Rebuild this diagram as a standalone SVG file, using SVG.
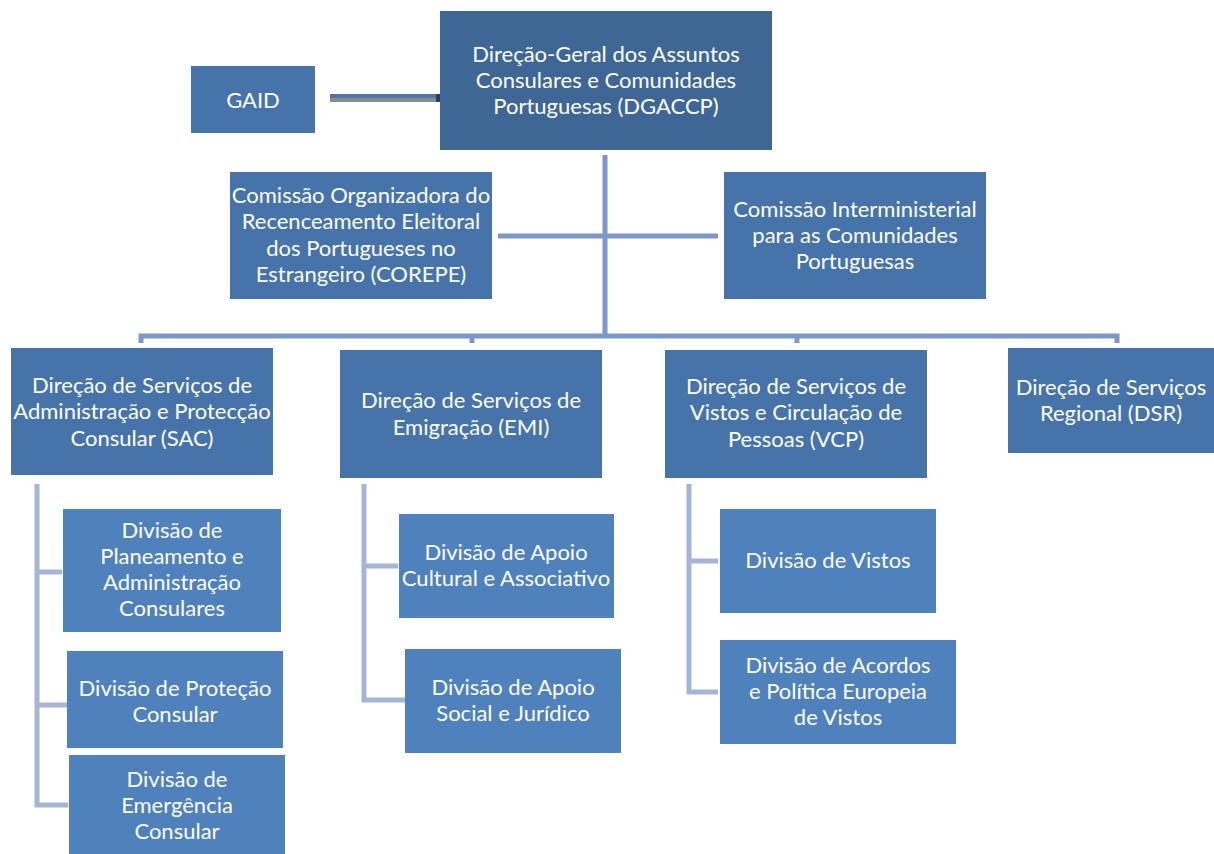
<svg xmlns="http://www.w3.org/2000/svg" width="1214" height="854" viewBox="0 0 1214 854">
<style>
.top{fill:#3e6796}
.main{fill:#4674aa}
.sub{fill:#4f81bd}
text{font-family:Lato,"Open Sans",sans-serif;font-size:22px;fill:#ffffff;text-anchor:middle}
.c1{stroke:#7b98c9;stroke-width:5;fill:none}
.c2{stroke:#a4b5d6;stroke-width:5;fill:none}
</style>
<rect width="1214" height="854" fill="#ffffff"/>
<g id="connectors">
<line x1="330" y1="99" x2="447" y2="99" stroke="#8c8c8c" stroke-width="6"/>
<line x1="330" y1="96" x2="447" y2="96" stroke="#4a78b0" stroke-width="4"/>
<rect x="436" y="94" width="11" height="8" fill="#2b3f5c"/>
<line x1="605" y1="155" x2="605" y2="336" class="c1"/>
<line x1="498" y1="236" x2="718" y2="236" class="c1"/>
<polyline points="141,343 141,336 1117,336 1117,343" class="c1"/>
<line x1="472" y1="336" x2="472" y2="343" class="c1"/>
<line x1="797" y1="336" x2="797" y2="343" class="c1"/>
<polyline points="37,484 37,805 68,805" class="c2"/>
<line x1="37" y1="572" x2="62" y2="572" class="c2"/>
<line x1="37" y1="705" x2="67" y2="705" class="c2"/>
<polyline points="364,484 364,700 405,700" class="c2"/>
<line x1="364" y1="566" x2="398" y2="566" class="c2"/>
<polyline points="689,484 689,692 718,692" class="c2"/>
<line x1="689" y1="561" x2="718" y2="561" class="c2"/>
</g>
<g id="dgaccp"><rect x="440" y="11" width="332" height="139" class="top"/>
<text x="606" y="62">Direção-Geral dos Assuntos</text><text x="606" y="88">Consulares e Comunidades</text><text x="606" y="114">Portuguesas (DGACCP)</text></g>
<g id="gaid"><rect x="191" y="66" width="124" height="67" class="main"/><text x="253" y="108">GAID</text></g>
<g id="corepe"><rect x="230" y="172" width="262" height="127" class="main"/>
<text x="361" y="203">Comissão Organizadora do</text><text x="361" y="229">Recenceamento Eleitoral</text><text x="361" y="256">dos Portugueses no</text><text x="361" y="282">Estrangeiro (COREPE)</text></g>
<g id="cicp"><rect x="724" y="172" width="262" height="127" class="main"/>
<text x="855" y="217">Comissão Interministerial</text><text x="855" y="243">para as Comunidades</text><text x="855" y="269">Portuguesas</text></g>
<g id="sac"><rect x="11" y="348" width="262" height="127" class="main"/>
<text x="142" y="393">Direção de Serviços de</text><text x="142" y="419">Administração e Protecção</text><text x="142" y="446">Consular (SAC)</text></g>
<g id="emi"><rect x="340" y="350" width="262" height="128" class="main"/>
<text x="471" y="408">Direção de Serviços de</text><text x="471" y="435">Emigração (EMI)</text></g>
<g id="vcp"><rect x="665" y="350" width="262" height="128" class="main"/>
<text x="796" y="394">Direção de Serviços de</text><text x="796" y="420">Vistos e Circulação de</text><text x="796" y="447">Pessoas (VCP)</text></g>
<g id="dsr"><rect x="1008" y="348" width="206" height="105" class="main"/>
<text x="1111" y="395">Direção de Serviços</text><text x="1111" y="421">Regional (DSR)</text></g>
<g id="dpac"><rect x="63" y="509" width="218" height="123" class="sub"/>
<text x="172" y="538">Divisão de</text><text x="172" y="564">Planeamento e</text><text x="172" y="590">Administração</text><text x="172" y="616">Consulares</text></g>
<g id="dpc"><rect x="67" y="651" width="216" height="97" class="sub"/>
<text x="175" y="696">Divisão de Proteção</text><text x="175" y="722">Consular</text></g>
<g id="dec"><rect x="69" y="755" width="216" height="99" class="sub"/>
<text x="177" y="787">Divisão de</text><text x="177" y="813">Emergência</text><text x="177" y="839">Consular</text></g>
<g id="daca"><rect x="399" y="514" width="215" height="104" class="sub"/>
<text x="506" y="560">Divisão de Apoio</text><text x="506" y="586">Cultural e Associativo</text></g>
<g id="dasj"><rect x="405" y="649" width="216" height="104" class="sub"/>
<text x="513" y="695">Divisão de Apoio</text><text x="513" y="721">Social e Jurídico</text></g>
<g id="dv"><rect x="720" y="509" width="216" height="104" class="sub"/>
<text x="828" y="568">Divisão de Vistos</text></g>
<g id="dapev"><rect x="720" y="640" width="236" height="104" class="sub"/>
<text x="838" y="673">Divisão de Acordos</text><text x="838" y="699">e Política Europeia</text><text x="838" y="725">de Vistos</text></g>
</svg>
